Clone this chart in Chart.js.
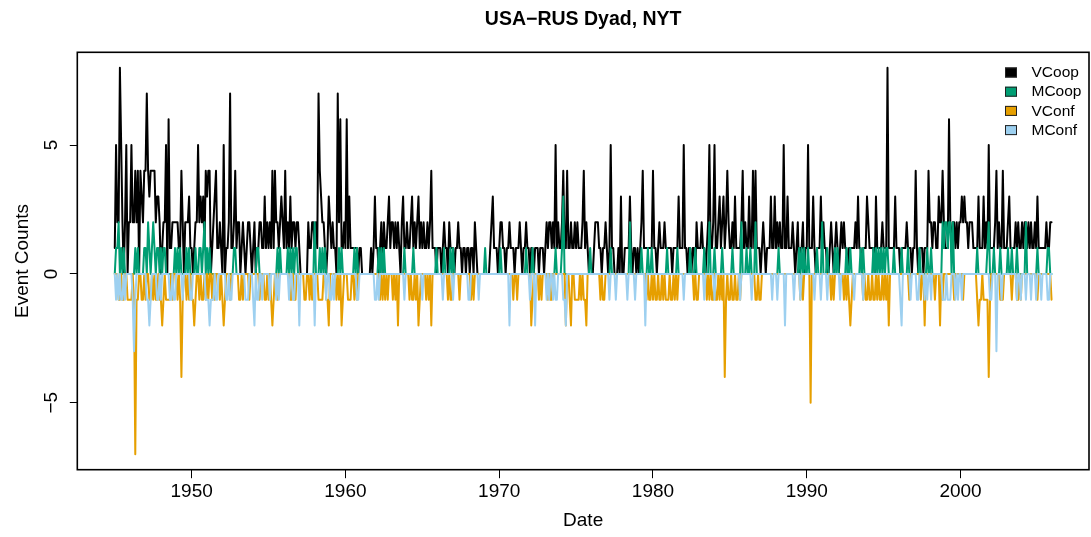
<!DOCTYPE html>
<html>
<head>
<meta charset="utf-8">
<script src="https://cdn.jsdelivr.net/npm/chart.js@4.4.1/dist/chart.umd.min.js"></script>
<style>
html,body{margin:0;padding:0;background:#fff;}
#wrap{width:1091px;height:537px;position:relative;}
</style>
</head>
<body>
<div id="wrap"><canvas id="c" width="1091" height="537"></canvas></div>
<script>
// ---- data: monthly counts, Jan 1945 .. Dec 2005 (12 values per row = one year) ----
const startYear = 1945;
const vcoop = [
1,5,2,2,8,5,2,0,2,5,0,2, 2,5,2,2,4,2,4,0,4,3,2,4, 4,7,4,3,4,4,4,4,2,3,3,2, 0,1,2,2,5,0,6,1,1,2,2,2,
2,2,1,1,4,2,0,2,2,2,3,1, 1,0,1,2,2,5,2,3,2,3,1,4, 3,4,4,0,1,2,3,4,1,1,2,1, 0,5,0,1,1,2,7,1,1,2,4,1,
2,2,0,1,2,1,0,1,2,2,1,0, 1,2,0,1,1,2,2,1,1,3,1,2, 1,2,1,4,1,4,2,2,1,2,3,2, 1,4,1,2,1,3,1,2,2,1,2,2,
1,0,0,0,0,0,0,2,1,1,2,2, 1,2,1,7,4,3,2,2,1,0,1,3, 2,1,2,1,1,0,7,2,6,1,1,2, 1,6,1,3,1,1,1,1,1,1,0,1,
1,0,0,0,0,0,0,0,1,0,1,3, 1,1,0,1,2,0,2,1,1,2,3,1, 2,2,1,2,1,2,1,0,2,3,1,1, 2,1,1,2,3,1,2,1,2,3,1,2,
1,2,1,1,2,1,2,4,1,1,1,0, 1,1,1,0,1,2,1,1,0,2,1,1, 1,0,1,1,2,1,1,0,1,1,0,1, 1,0,1,1,0,2,1,0,0,0,0,0,
0,0,0,0,0,1,2,3,1,1,1,0, 1,2,2,1,1,0,1,1,2,1,1,1, 0,1,1,1,2,1,0,1,1,2,1,1, 0,1,1,0,1,1,1,0,1,1,1,0,
1,2,1,2,2,1,2,1,5,1,2,1, 1,2,4,1,1,4,1,1,2,1,1,2, 1,2,1,1,1,2,4,1,2,1,0,0, 0,0,1,2,2,2,1,1,0,1,1,2,
1,0,1,5,1,1,0,0,0,1,0,3, 0,0,1,1,1,1,3,1,0,1,1,0, 1,0,1,2,4,1,1,1,1,1,1,1, 4,1,1,0,1,2,1,1,1,2,1,1,
1,1,1,0,1,1,1,1,3,1,1,1, 5,1,1,0,1,1,0,1,1,0,2,1, 1,1,2,1,1,0,1,2,5,1,1,2, 5,1,1,2,3,1,2,3,1,2,4,2,
1,1,2,1,3,1,1,1,1,2,4,1, 2,1,1,3,1,1,4,1,4,1,1,1, 0,1,2,1,0,1,1,1,3,1,1,3, 1,2,1,2,1,1,5,1,1,3,1,1,
1,2,1,0,1,2,0,1,1,2,0,1, 1,5,1,1,1,3,1,0,1,1,1,3, 1,2,1,1,0,0,1,2,1,0,1,2, 1,0,1,2,1,2,1,1,0,1,1,1,
1,1,2,1,3,1,1,0,1,1,1,3, 2,1,1,1,1,0,3,1,1,1,1,2, 1,1,1,8,1,1,1,1,1,3,1,1, 1,0,1,1,1,1,2,1,1,1,0,1,
1,4,1,0,1,1,1,0,1,1,1,4, 2,2,1,2,2,1,1,3,2,2,4,2, 1,1,1,6,2,1,2,2,1,2,1,2, 2,3,2,3,2,2,1,2,2,2,1,1,
1,1,3,1,1,1,3,1,2,1,5,1, 1,1,1,2,4,1,2,1,1,4,1,1, 1,2,3,1,1,1,1,2,1,2,1,1, 2,1,2,2,1,2,1,2,1,1,2,1,
3,1,1,1,1,1,1,2,1,1,2,2
];
const mcoop = [
0,1,1,2,0,1,0,1,0,0,0,0, 0,0,0,0,1,0,1,0,0,0,0,1, 1,0,2,1,0,1,2,1,0,1,1,0, 1,0,1,1,0,0,0,0,0,0,0,1,
0,1,0,1,0,0,0,0,1,0,1,0, 0,0,0,1,0,0,1,1,0,1,2,0, 1,0,1,0,0,0,0,0,0,0,0,0, 0,0,0,0,0,0,0,0,0,1,1,0,
0,0,0,0,0,0,0,0,0,0,0,0, 0,0,0,1,1,0,0,0,0,0,0,0, 0,0,0,0,0,0,0,1,0,1,0,0, 0,0,0,1,0,1,0,1,0,1,1,0,
0,0,0,0,0,0,0,0,0,0,0,0, 2,0,0,0,1,0,1,0,1,0,0,0, 0,0,0,0,0,0,0,1,0,1,0,0, 0,0,0,0,0,0,0,1,0,1,0,0,
0,0,0,0,0,0,0,0,0,0,0,0, 0,0,1,0,1,0,1,0,0,0,0,0, 0,0,0,0,0,0,0,0,0,0,1,0, 0,0,0,0,0,1,0,0,0,0,0,0,
0,0,0,0,0,0,0,0,0,0,0,1, 0,0,0,0,0,1,0,0,0,0,1,0, 1,0,0,0,0,0,0,0,0,0,0,0, 0,0,0,0,0,0,0,0,0,0,0,0,
0,1,0,0,0,0,0,0,0,0,0,0, 0,1,0,0,0,0,0,0,0,0,0,0, 0,0,0,0,0,0,0,0,0,1,0,0, 0,0,1,0,0,0,0,0,0,0,0,0,
0,0,0,0,0,0,0,0,1,0,0,0, 0,1,3,0,0,0,0,0,0,0,0,0, 0,0,0,0,0,0,0,0,0,0,0,1, 0,0,0,0,0,0,0,0,0,0,0,0,
0,0,0,1,0,0,0,0,0,0,0,0, 0,0,0,0,0,0,2,0,0,0,0,0, 0,0,0,1,0,0,0,0,1,0,0,1, 0,0,0,0,0,0,0,0,0,0,0,1,
0,0,0,0,0,0,0,1,0,0,0,0, 0,0,0,0,0,1,0,0,0,1,0,0, 0,0,0,0,1,0,0,0,2,0,0,0, 1,0,0,0,0,0,1,0,0,0,0,0,
0,0,1,0,0,0,0,0,0,2,0,0, 0,1,0,0,1,0,0,0,2,0,0,0, 0,0,0,0,0,0,0,0,0,0,0,0, 0,0,1,0,0,0,0,0,0,0,0,0,
0,0,0,0,0,0,1,0,1,0,1,0, 0,1,0,0,0,0,0,0,1,0,0,0, 2,0,0,0,1,0,0,0,0,0,1,0, 1,0,0,0,0,0,0,1,0,0,1,0,
0,0,0,0,0,0,1,0,1,0,0,0, 0,0,0,0,1,0,1,0,1,0,1,0, 1,0,1,1,0,0,0,0,1,0,0,0, 0,0,1,0,0,0,0,1,0,0,0,0,
0,0,0,0,1,0,0,0,0,0,1,0, 0,1,0,0,0,0,0,0,0,0,2,1, 2,2,1,2,2,0,2,0,0,0,0,0, 0,0,0,0,0,0,0,0,0,0,0,0,
0,1,0,0,0,0,0,0,0,1,2,0, 0,0,1,0,0,0,0,1,0,0,0,0, 0,1,0,0,1,0,0,0,1,0,0,0, 0,0,0,2,0,0,0,0,0,0,0,0,
1,0,0,0,0,0,0,0,1,1,0,0
];
const vconf = [
0,0,0,-1,-1,0,-1,-1,0,0,-1,-1, -1,-1,0,-1,-7,-1,-1,0,0,-1,-1,0, -1,0,0,-1,-1,0,-1,0,-1,-1,0,-1, -1,-2,-1,0,-1,-1,-1,-1,0,-1,0,0,
0,-1,0,-1,-4,-1,0,0,-1,0,-1,0, -1,-1,-2,-1,0,0,-1,0,-1,-1,0,-1, 0,-1,0,0,-1,0,-1,0,0,0,-1,0, -1,-2,-1,0,0,0,-1,0,0,0,0,0,
0,-1,-1,0,-1,0,0,0,0,-1,0,0, 0,0,0,0,0,-1,0,0,0,-1,-1,0, -1,0,-1,-2,-1,0,0,-1,0,0,0,0, 0,0,0,0,0,-1,-1,0,-1,-1,0,0,
0,0,0,0,-1,-1,0,0,-1,0,-1,0, 0,0,0,-1,-1,-1,-1,0,0,-1,-1,-2, 0,0,0,0,0,-1,0,-1,0,-2,-1,0, 0,0,-1,-1,-1,0,0,-1,0,-1,0,0,
0,0,0,0,0,0,0,0,0,0,0,0, 0,0,0,-1,0,-1,0,-1,0,-1,0,0, 0,-1,0,-1,0,-2,0,0,0,0,0,0, 0,0,-1,0,-1,-1,0,-1,0,-2,-1,0,
0,0,0,-1,0,-1,0,-2,0,0,0,0, 0,0,0,0,0,0,0,0,-1,0,-1,-1, 0,0,0,0,0,-1,0,0,0,0,0,0, 0,0,-1,0,-1,0,0,0,0,0,0,0,
0,0,0,0,0,0,0,0,0,0,0,0, 0,0,0,0,0,0,0,0,0,0,0,-1, 0,0,-1,0,0,0,0,0,0,0,0,0, 0,-2,-1,0,0,0,0,-1,0,-1,0,0,
0,0,-1,0,-1,-1,0,0,0,0,0,0, 0,0,0,0,-2,0,0,-1,-2,0,0,-1, -1,-1,-1,0,-1,0,-1,-1,-2,0,0,0, 0,0,0,0,0,0,0,-1,0,-1,-1,0,
0,0,0,0,0,0,0,0,0,0,0,0, 0,0,0,0,0,0,0,0,0,0,0,0, 0,0,0,0,0,0,0,-1,0,-1,-1,0, -1,0,-1,-1,0,-1,-1,0,-1,0,-1,-1,
-1,0,-1,-1,0,-1,0,-1,0,0,0,0, 0,0,0,0,0,0,0,0,-1,0,-1,-1, 0,0,0,0,0,0,-1,0,-1,0,-1,-1, 0,-1,-1,0,-1,0,-1,0,-4,-1,0,-1,
-1,0,-1,-1,0,-1,-1,0,-1,0,0,0, 0,0,0,0,0,0,0,0,-1,-1,0,-1, -1,0,0,0,0,0,0,0,0,0,0,0, 0,0,0,0,0,0,0,0,0,0,0,0,
0,0,0,0,0,0,0,-1,0,-1,0,0, 0,0,0,-5,0,0,0,0,0,0,0,0, 0,0,0,0,0,0,0,-1,0,-1,0,0, 0,0,0,0,0,-1,0,-1,0,-1,-2,-1,
0,0,0,0,0,0,0,0,-1,0,-1,-1, 0,-1,-1,0,-1,-1,0,-1,0,-1,-1,0, -1,0,-1,0,-2,0,0,0,0,0,0,0, 0,0,0,0,0,0,0,0,-1,0,0,0,
0,0,0,0,0,-1,0,0,-2,0,0,0, 0,0,0,0,-1,0,0,0,-2,0,-1,0, 0,0,0,0,0,0,0,-1,0,0,0,0, 0,0,-1,0,0,0,0,0,0,0,0,0,
0,-1,-2,-1,-1,0,-1,-1,-1,-1,-4,-1, 0,0,0,0,0,0,0,-1,-1,-1,0,0, 0,0,0,0,-1,0,0,0,-1,-1,0,-1, 0,0,0,0,0,0,0,0,0,0,0,0,
-1,0,0,0,0,0,0,0,0,0,0,-1
];
const mconf = [
0,-1,0,-1,0,-1,-1,0,-1,0,0,0, 0,0,-1,-3,-1,0,0,0,0,0,0,0, 0,-1,-1,-2,-1,0,0,0,0,-1,-1,0, -1,0,0,0,0,0,0,-1,-1,0,-1,-1,
0,0,0,0,0,-1,0,0,0,0,0,-1, -1,0,0,0,0,0,0,0,0,0,0,-1, -1,-1,-2,-1,-1,-1,0,-1,-1,0,0,0, 0,0,0,-1,-1,0,-1,-1,0,0,0,0,
0,0,0,0,0,0,-1,-1,-1,0,0,0, -1,-2,0,-1,-1,0,0,-1,0,0,0,0, 0,-1,0,0,0,0,-1,0,-1,0,0,0, 0,0,0,0,-1,0,0,-1,-1,0,0,0,
-2,0,0,0,0,0,0,0,0,0,0,0, -2,0,0,0,0,0,0,0,0,-1,0,0, -1,-1,0,-1,0,0,0,0,0,0,0,0, 0,0,0,0,0,0,0,0,0,-1,-1,0,
0,0,0,0,0,0,0,0,0,0,0,-1, -1,0,-1,0,0,0,0,0,0,0,0,0, 0,0,0,0,0,0,0,0,0,0,-1,0, 0,0,0,0,0,0,0,0,0,0,0,0,
-1,0,0,0,0,0,0,0,0,0,0,0, 0,0,0,0,-1,0,0,0,0,0,0,0, -1,0,0,0,0,0,0,0,0,0,0,0, -1,-1,0,0,0,0,0,0,-1,0,0,0,
0,0,0,0,0,0,0,0,0,0,0,0, 0,0,0,0,0,0,0,0,-2,0,0,0, 0,0,0,0,0,0,0,0,0,0,0,0, -1,0,0,0,-2,0,0,0,0,0,0,0,
0,-1,0,-1,0,0,-1,0,-1,-1,0,0, 0,0,-1,-1,-2,0,0,0,0,0,0,0, 0,0,0,0,0,0,0,0,0,0,0,0, 0,0,0,0,0,0,0,0,0,0,0,0,
0,0,-1,0,0,0,0,-1,0,0,0,0, 0,0,0,0,-1,0,0,0,0,0,-1,0, 0,0,0,0,0,0,-2,0,0,0,0,0, 0,0,0,0,0,0,0,0,0,0,0,0,
0,0,0,0,0,0,0,0,0,0,0,0, -1,0,0,0,0,0,0,0,0,0,0,0, 0,0,0,0,-1,0,0,0,0,0,0,0, -1,0,0,0,0,0,0,0,0,0,0,0,
0,0,0,0,0,0,0,0,-1,0,0,0, 0,0,0,0,0,-1,0,0,0,0,0,0, 0,0,0,0,0,0,0,0,0,-1,0,0, 0,-1,0,0,0,0,0,-2,0,0,0,0,
0,0,-1,0,0,0,0,-1,0,0,0,0, 0,0,0,0,0,0,-1,0,0,0,0,-1, 0,0,0,0,-1,0,0,0,0,0,0,0, 0,0,-1,0,0,0,0,0,0,0,0,0,
0,-1,0,0,0,0,0,0,-1,0,0,0, 0,0,0,0,0,0,0,0,0,0,0,0, 0,0,0,0,0,0,0,0,0,0,0,0, 0,-1,-2,0,0,0,0,0,0,-1,0,0,
0,0,-1,-1,0,0,0,0,-1,0,-1,0, 0,-1,0,0,0,0,0,0,0,0,-1,-1, -1,0,-1,-1,-1,0,0,0,-1,0,-1,0, 0,-1,0,0,0,0,0,0,0,0,0,0,
0,0,0,0,0,0,0,0,0,0,0,-1, -1,0,0,0,-3,0,0,0,-1,0,0,0, 0,0,0,0,0,0,0,0,-1,0,0,-1, 0,0,0,-1,0,0,0,-1,0,0,0,-1,
0,0,0,-1,0,0,0,0,-1,-1,0,0
];
const seriesNames = ['VCoop', 'MCoop', 'VConf', 'MConf'];
const seriesColors = ['#000000', '#009E73', '#E69F00', '#9DD0F0'];
const xTickLabels = [1950, 1960, 1970, 1980, 1990, 2000];
const yTickLabels = [-5, 0, 5];
const chartTitle = 'USA\u2212RUS Dyad, NYT';

// ---- build chart ----
const FONT = '"Liberation Sans", Arial, Helvetica, sans-serif';
const times = vcoop.map((_, i) => startYear + i / 12);
const tMin = times[0], tMax = times[times.length - 1];
const allVals = vcoop.concat(mcoop, vconf, mconf);
const vMin = Math.min(...allVals), vMax = Math.max(...allVals);
const padX = (tMax - tMin) * 0.04, padY = (vMax - vMin) * 0.04;
const seriesVals = [vcoop, mcoop, vconf, mconf];

const datasets = seriesVals.map((vals, k) => ({
  label: seriesNames[k],
  data: vals.map((v, i) => ({x: times[i], y: v})),
  borderColor: seriesColors[k],
  backgroundColor: seriesColors[k],
  borderWidth: 2,
  pointRadius: 0,
  pointHoverRadius: 0,
  tension: 0,
  fill: false,
  borderJoinStyle: 'round',
  borderCapStyle: 'round',
  order: 4 - k
}));

const rStyle = {
  id: 'rStyle',
  afterDatasetsDraw(chart) {
    const {ctx, chartArea: a, scales} = chart;
    ctx.save();
    // frame
    ctx.strokeStyle = '#000';
    ctx.lineWidth = 1.6;
    ctx.strokeRect(a.left, a.top, a.right - a.left, a.bottom - a.top);
    // title centred over the plot region (as R does)
    ctx.fillStyle = '#000';
    ctx.font = 'bold 19.5px ' + FONT;
    ctx.textAlign = 'center';
    ctx.textBaseline = 'middle';
    ctx.fillText(chartTitle, (a.left + a.right) / 2, 20);
    // y tick labels, rotated like R
    ctx.font = '19px ' + FONT;
    yTickLabels.forEach(v => {
      const y = scales.y.getPixelForValue(v);
      ctx.save();
      ctx.translate(a.left - 26, y);
      ctx.rotate(-Math.PI / 2);
      ctx.fillText(v < 0 ? '\u2212' + Math.abs(v) : String(v), 0, 0);
      ctx.restore();
    });
    // legend (top right, no box)
    ctx.font = '15.5px ' + FONT;
    ctx.textAlign = 'left';
    seriesNames.forEach((n, k) => {
      const cy = 72.5 + k * 19.2;
      ctx.fillStyle = seriesColors[k];
      ctx.fillRect(1005, cy - 5, 12, 10);
      ctx.strokeStyle = '#222';
      ctx.lineWidth = 1;
      ctx.strokeRect(1005.5, cy - 4.5, 11, 9);
      ctx.fillStyle = '#000';
      ctx.fillText(n, 1031.5, cy + 0.5);
    });
    ctx.restore();
  }
};

new Chart(document.getElementById('c'), {
  type: 'line',
  data: {datasets},
  options: {
    responsive: false,
    animation: false,
    events: [],
    layout: {padding: {left: 0, right: 2, top: 52.3, bottom: 0}},
    plugins: {
      legend: {display: false},
      tooltip: {enabled: false},
      title: {display: false}
    },
    scales: {
      x: {
        type: 'linear',
        min: tMin - padX,
        max: tMax + padX,
        afterBuildTicks: s => { s.ticks = xTickLabels.map(v => ({value: v})); },
        afterFit: s => { s.height = 67.3; },
        grid: {display: true, drawOnChartArea: false, drawTicks: true, tickLength: 8.5, color: '#000', lineWidth: 1},
        border: {display: false},
        ticks: {color: '#000', font: {family: FONT, size: 19}, padding: 2.5, maxRotation: 0, minRotation: 0, autoSkip: false,
                callback: v => String(v)},
        title: {display: true, text: 'Date', color: '#000', font: {family: FONT, size: 19, lineHeight: 1.2}, padding: {top: 0, bottom: 4.6}}
      },
      y: {
        type: 'linear',
        min: vMin - padY,
        max: vMax + padY,
        afterBuildTicks: s => { s.ticks = yTickLabels.map(v => ({value: v})); },
        afterFit: s => { s.width = 77.3; },
        grid: {display: true, drawOnChartArea: false, drawTicks: true, tickLength: 7.5, color: '#000', lineWidth: 1},
        border: {display: false},
        ticks: {display: false},
        title: {display: true, text: 'Event Counts', color: '#000', font: {family: FONT, size: 19, lineHeight: 1.2}, padding: {top: 11.6, bottom: 0}}
      }
    }
  },
  plugins: [rStyle]
});
</script>
</body>
</html>
